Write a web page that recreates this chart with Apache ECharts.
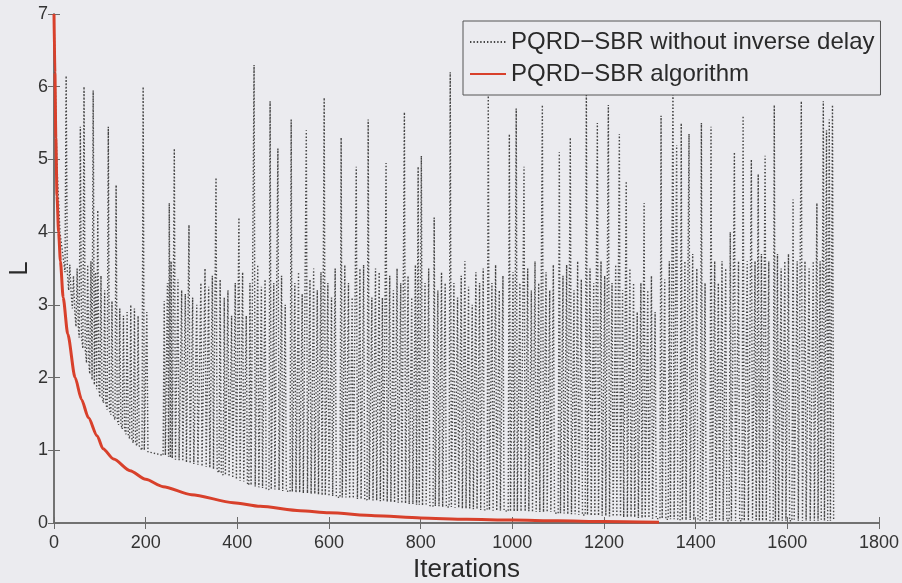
<!DOCTYPE html>
<html>
<head>
<meta charset="utf-8">
<style>
html,body{margin:0;padding:0;background:#ebebef;}
#chart{width:902px;height:583px;}
</style>
<script src="https://cdn.jsdelivr.net/npm/echarts@6/dist/echarts.min.js"></script>
</head>
<body>
<div id="chart"></div>
<script>
// ---- data ----
const xTicks = [0, 200, 400, 600, 800, 1000, 1200, 1400, 1600, 1800];
const yTicks = [0, 1, 2, 3, 4, 5, 6, 7];

// red curve: PQRD-SBR algorithm
const algIter = [0, 2, 4, 6.5, 10, 14, 20, 30, 46, 60, 75, 94, 107, 130, 166, 200, 238, 300, 391, 450, 537, 600, 700, 800, 900, 1000, 1100, 1200, 1320];
const algVal  = [7, 6.2, 5.3, 4.5, 4.0, 3.6, 3.1, 2.6, 2.0, 1.7, 1.45, 1.2, 1.02, 0.88, 0.72, 0.6, 0.5, 0.39, 0.28, 0.23, 0.17, 0.14, 0.1, 0.07, 0.05, 0.04, 0.03, 0.02, 0.01];

// dotted curve: start of run
const headIter = [0, 6, 13];
const headVal  = [7, 5.0, 4.0];

// dotted curve: oscillation columns (iteration, lower value, peak value)
const colIter = [24,32,40,48,55,63,71,78,83,88,93,100,108,116,124,133,141,149,157,165,173,181,192,200,
238,245,249,253,260,268,276,284,292,300,309,318,327,335,343,351,360,369,377,385,393,401,409,417,425,434,442,450,458,469,477,486,494,502,
515,523,531,539,548,556,564,572,580,587,595,603,611,624,632,640,648,657,665,673,683,691,699,707,714,722,730,738,746,754,762,770,778,786,792,799,
807,815,827,835,843,851,862,870,878,886,894,902,910,918,926,934,945,953,961,969,977,991,999,1006,1014,1023,1031,1039,1047,1055,1063,1071,1079,1087,
1100,1108,1116,1124,1132,1140,1148,1159,1167,1175,1183,1191,1199,1207,1215,1223,1231,1238,1246,1254,1262,1270,1278,1285,1293,1301,1309,
1322,1330,1340,1348,1356,1366,1374,1383,1391,1400,1410,1418,1431,1439,1447,1455,1463,1473,1482,1491,1501,1510,1519,1527,1534,1541,1549,1557,
1569,1576,1584,1592,1600,1610,1619,1628,1636,1645,1654,1662,1669,1676,1683,1689,1696];
const colLow = [3.45,3.2,2.95,2.7,2.55,2.4,2.2,2.05,1.97,1.9,1.84,1.73,1.65,1.56,1.49,1.42,1.35,1.29,1.22,1.16,1.1,1.06,1.0,0.98,
0.93,0.91,0.9,0.89,0.87,0.86,0.85,0.83,0.82,0.81,0.8,0.78,0.77,0.76,0.74,0.72,0.69,0.66,0.64,0.62,0.6,0.58,0.57,0.55,0.52,0.5,0.49,0.48,0.47,0.46,0.46,0.45,0.44,0.44,
0.43,0.42,0.42,0.41,0.41,0.4,0.4,0.39,0.38,0.38,0.37,0.37,0.36,0.35,0.35,0.34,0.34,0.33,0.33,0.32,0.32,0.31,0.31,0.3,0.3,0.29,0.29,0.28,0.28,0.27,0.27,0.26,0.26,0.25,0.25,0.24,
0.24,0.24,0.23,0.23,0.22,0.22,0.22,0.21,0.21,0.2,0.2,0.2,0.19,0.19,0.18,0.18,0.18,0.17,0.17,0.17,0.17,0.16,0.16,0.16,0.16,0.16,0.16,0.15,0.15,0.15,0.15,0.15,0.15,0.14,
0.13,0.13,0.12,0.12,0.12,0.11,0.11,0.11,0.1,0.1,0.1,0.1,0.1,0.09,0.09,0.09,0.09,0.08,0.08,0.08,0.08,0.07,0.07,0.07,0.07,0.06,0.06,
0.06,0.05,0.05,0.05,0.05,0.04,0.04,0.04,0.04,0.04,0.04,0.04,0.03,0.03,0.03,0.03,0.03,0.03,0.03,0.03,0.03,0.03,0.03,0.03,0.03,0.03,0.03,0.03,
0.03,0.03,0.03,0.03,0.03,0.03,0.03,0.03,0.03,0.03,0.03,0.03,0.03,0.03,0.03,0.03,0.03];
const colTop = [6.15,3.55,3.4,3.5,5.45,6.0,3.55,3.6,5.95,3.45,4.3,3.4,3.2,5.45,3.05,4.65,2.95,2.85,2.9,3.0,2.95,2.85,6.0,2.9,
3.05,3.3,4.4,3.6,5.15,3.35,3.2,3.15,4.1,3.1,3.0,3.3,3.5,3.25,3.4,4.75,3.35,3.1,3.2,2.85,3.3,4.2,3.45,2.85,3.3,6.3,3.55,3.25,3.35,5.8,3.3,5.15,3.4,3.0,
5.55,3.3,3.45,3.15,5.4,3.35,3.5,3.2,3.45,5.85,3.3,3.1,3.5,5.3,3.55,3.3,3.1,4.9,3.5,3.55,5.55,3.1,3.5,3.45,3.1,4.95,3.4,3.2,3.5,3.3,5.65,3.4,3.1,3.55,4.9,5.05,
3.3,3.5,4.2,3.2,3.45,3.3,6.2,3.3,3.1,3.4,3.6,3.25,3.0,3.45,3.3,3.5,5.9,3.3,3.55,3.2,3.4,5.35,3.45,5.7,3.3,4.9,3.5,3.2,3.6,3.3,5.75,3.45,3.2,3.55,
5.1,3.4,3.55,5.3,3.2,3.6,3.35,6.0,3.5,3.3,5.5,3.6,3.4,5.75,3.3,3.55,5.35,3.2,4.7,3.5,3.3,2.9,3.3,4.4,3.2,3.4,2.9,
5.6,3.35,3.6,6.1,5.2,5.5,3.6,5.35,3.7,3.5,5.5,3.3,5.45,3.6,3.3,3.6,3.5,4.0,5.1,3.6,5.6,3.6,5.0,3.6,4.8,3.7,5.05,3.6,
5.75,3.7,3.5,3.6,3.7,4.45,3.6,5.8,3.6,3.5,3.6,4.4,3.6,5.8,5.4,5.55,5.75];

const nameA = 'PQRD\u2212SBR without inverse delay';
const nameB = 'PQRD\u2212SBR algorithm';

// ---- build series data ----
const algData = algIter.map((x, i) => [x, algVal[i]]);
const dotData = headIter.map((x, i) => [x, headVal[i]]);
colIter.forEach((x, i) => {
  dotData.push([x, colLow[i]]);
  dotData.push([x + 2.5, colTop[i]]);
  dotData.push([x + 5, colLow[i]]);
});

const FONT = '"Liberation Sans", Arial, Helvetica, sans-serif';
const chart = echarts.init(document.getElementById('chart'), null, {renderer: 'canvas'});
const axisCommon = {
  axisLine: {show: true, lineStyle: {color: '#6a6a6a', width: 1.5}},
  axisTick: {show: true, inside: true, length: 6, lineStyle: {color: '#6a6a6a'}},
  splitLine: {show: false}
};
chart.setOption({
  backgroundColor: '#ebebef',
  animation: false,
  grid: {left: 54, right: 23, top: 14, bottom: 60, containLabel: false, outerBoundsMode: 'none'},
  legend: {
    orient: 'vertical',
    left: 463, top: 21,
    padding: [9, 6, 9, 6],
    itemGap: 8,
    itemWidth: 36, itemHeight: 14,
    borderColor: '#555', borderWidth: 1,
    backgroundColor: '#ebebef',
    itemStyle: {opacity: 0},
    textStyle: {fontFamily: FONT, fontSize: 24, color: '#2a2a2a'},
    data: [nameA, nameB]
  },
  xAxis: [
    Object.assign({
      type: 'value', min: 0, max: 1800, interval: 200, position: 'bottom',
      name: 'Iterations', nameLocation: 'middle', nameGap: 34, nameMoveOverlap: false,
      nameTextStyle: {fontFamily: FONT, fontSize: 26, color: '#2a2a2a'},
      axisLabel: {fontFamily: FONT, fontSize: 18, color: '#333', margin: 11,
        formatter: v => xTicks.includes(v) ? String(v) : ''}
    }, axisCommon),
    Object.assign({
      type: 'value', min: 0, max: 1800, interval: 200, position: 'top',
      axisLabel: {show: false}
    }, axisCommon)
  ],
  yAxis: [
    Object.assign({
      type: 'value', min: 0, max: 7, interval: 1, position: 'left',
      name: 'L', nameLocation: 'middle', nameGap: 21, nameRotate: 90, nameMoveOverlap: false,
      nameTextStyle: {fontFamily: FONT, fontSize: 26, color: '#2a2a2a'},
      axisLabel: {fontFamily: FONT, fontSize: 18, color: '#333', margin: 6,
        formatter: v => yTicks.includes(v) ? String(v) : ''}
    }, axisCommon),
    Object.assign({
      type: 'value', min: 0, max: 7, interval: 1, position: 'right',
      axisLabel: {show: false}
    }, axisCommon)
  ],
  series: [
    {
      name: nameA, type: 'line', data: dotData, showSymbol: false, symbol: 'none',
      xAxisIndex: 0, yAxisIndex: 0,
      lineStyle: {color: '#454545', width: 1.4, type: [1.4, 2]},
      itemStyle: {color: '#454545'}
    },
    {
      name: nameB, type: 'line', data: algData, showSymbol: false, symbol: 'none',
      smooth: 0.25, smoothMonotone: 'x',
      xAxisIndex: 0, yAxisIndex: 0,
      lineStyle: {color: '#d8402b', width: 3},
      itemStyle: {color: '#d8402b'}
    }
  ]
});
</script>
</body>
</html>
